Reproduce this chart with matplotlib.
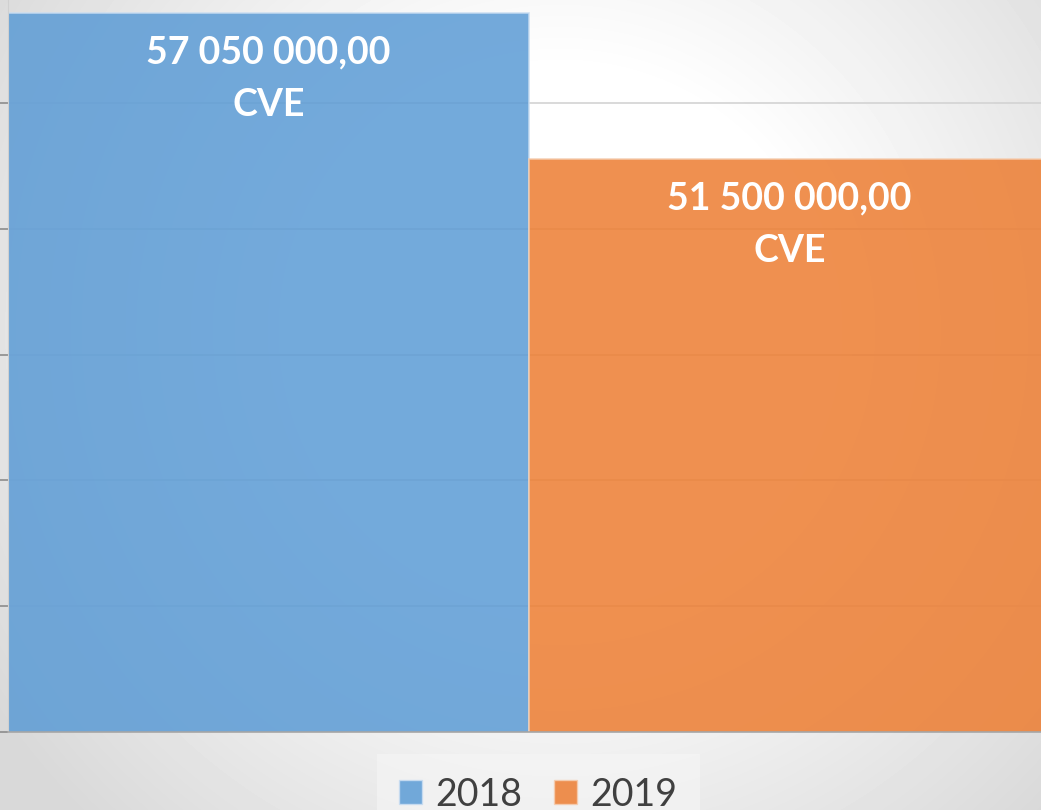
import numpy as np
import matplotlib.pyplot as plt
from matplotlib.patches import Patch

# data
years = ["2018", "2019"]
amounts = [57050000, 51500000]
colors = ["#5b9bd5", "#ed7d31"]
edge_colors = ["#c9ddf1", "#f5cdb0"]

Y_MIN = 29.72e6
Y_MAX = 57.54e6
GRID_STEP = 4.78e6


def fmt(v):
    s = f"{v:,.2f}"
    return s.replace(",", " ").replace(".", ",")


fig = plt.figure(figsize=(10.41, 8.10), dpi=100)

# radial gradient background
bg = fig.add_axes([0, 0, 1, 1], zorder=-10)
yy, xx = np.mgrid[0:810, 0:1041]
r = np.hypot(xx - 560, yy - 330)
shade = 1 - 0.15 * np.clip((r - 260) / 420, 0, 1)
bg.imshow(shade, cmap="gray", vmin=0, vmax=1, aspect="auto", extent=[0, 1, 0, 1])
bg.axis("off")

ax = fig.add_axes([8 / 1041, 78 / 810, 1 - 8 / 1041, 732 / 810])
ax.set_facecolor("none")

x = np.arange(len(years))
bars = ax.bar(x, amounts, width=1.0, color=colors, edgecolor=edge_colors,
              linewidth=1.2, alpha=0.85, zorder=2)

ax.set_xlim(-0.5, 1.483)
ax.set_ylim(Y_MIN, Y_MAX)
ax.set_yticks(np.arange(Y_MIN, Y_MAX, GRID_STEP))
ax.yaxis.grid(True, color="#d3d3d3", linewidth=1.2, zorder=1)
ax.set_axisbelow(True)
ax.set_yticklabels([])
ax.set_xticks([])
ax.tick_params(axis="y", length=8, color="#8c8c8c", width=1.2)

for side in ["top", "right"]:
    ax.spines[side].set_visible(False)
ax.spines["left"].set_color("#d0d0d0")
ax.spines["bottom"].set_color("#a6a6a6")
ax.spines["bottom"].set_linewidth(1.2)

for xi, v in zip(x, amounts):
    ax.annotate(fmt(v), (xi, v), xytext=(0, -40), textcoords="offset pixels",
                ha="center", va="center", color="white", fontsize=27,
                fontweight="bold", family="Lato", zorder=5)
    ax.annotate("CVE", (xi, v), xytext=(0, -92), textcoords="offset pixels",
                ha="center", va="center", color="white", fontsize=27,
                fontweight="bold", family="Lato", zorder=5)

handles = [Patch(facecolor=c, edgecolor=e, alpha=0.85) for c, e in zip(colors, edge_colors)]
leg = fig.legend(handles, years, loc="upper center", bbox_to_anchor=(0.517, 1 - 754 / 810),
                 ncol=2, frameon=True, fancybox=False, facecolor="#f6f6f6",
                 edgecolor="none", handlelength=0.61, handleheight=0.61,
                 handletextpad=0.35, columnspacing=0.85, borderpad=0.6,
                 borderaxespad=0, prop={"family": "Lato", "size": 27})
leg.get_frame().set_alpha(0.6)
for t in leg.get_texts():
    t.set_color("#404040")

fig.savefig("out.png", dpi=100)
